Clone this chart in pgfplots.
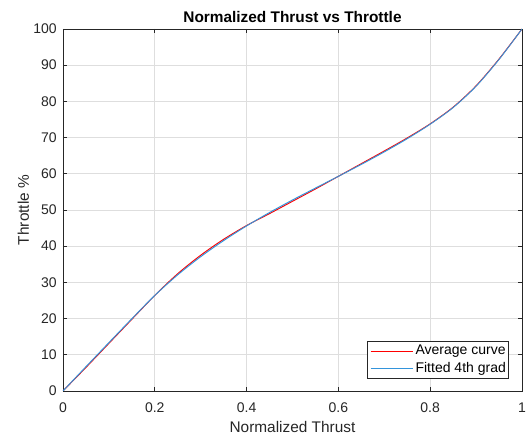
\documentclass[border=0pt]{standalone}
\usepackage{pgfplots}
\pgfplotsset{compat=1.18}
\usepackage{fontspec}
\setmainfont{Liberation Sans}
\definecolor{axc}{rgb}{0.15,0.15,0.15}
\definecolor{gridc}{rgb}{0.87,0.87,0.87}
\definecolor{mred}{rgb}{1,0,0}
\definecolor{mblue}{rgb}{0.2,0.58,0.86}
\begin{document}
\begin{tikzpicture}
\begin{axis}[
  name=ax,
  scale only axis,
  width=327.9pt, height=258.6pt,
  xmin=0, xmax=1, ymin=0, ymax=100,
  xtick={0,0.2,0.4,0.6,0.8,1},
  xticklabels={0,0.2,0.4,0.6,0.8,1},
  ytick={0,10,20,30,40,50,60,70,80,90,100},
  /pgf/number format/assume math mode=true,
  tick align=inside, tick pos=both,
  major tick length=3pt,
  axis line style={axc, line width=0.5pt},
  every tick/.style={axc, line width=0.5pt},
  grid=major,
  major grid style={gridc, line width=0.5pt},
  tick label style={font=\fontsize{10}{12}\selectfont, text=axc},
  xticklabel style={yshift=-4.8pt},
  yticklabel style={xshift=-1pt},
  title={Normalized Thrust vs Throttle},
  title style={at={(axis description cs:0.5,1.0166)}, anchor=base, yshift=-6pt, font=\bfseries\fontsize{11}{13}\selectfont, inner sep=0pt},
  xlabel={Normalized Thrust},
  xlabel style={at={(axis description cs:0.5,-0.1106)}, anchor=base, yshift=-1pt, font=\fontsize{11}{13}\selectfont, text=axc, inner sep=0pt},
  ylabel={Throttle \%},
  ylabel style={at={(axis description cs:-0.0741,0.5)}, anchor=base, font=\fontsize{11}{13}\selectfont, text=axc, inner sep=0pt},
  legend style={at={(axis description cs:0.9717,0.0331)}, anchor=south east,
    draw=axc, line width=0.5pt, font=\fontsize{10}{12}\selectfont,
    inner xsep=2pt, inner ysep=2.5pt, row sep=2.5pt,
    nodes={inner sep=0pt, text height=7.5pt, text depth=2.2pt}},
  legend cell align=left,
  legend image code/.code={\draw[#1, line width=0.8pt] (0pt,0pt) -- (30pt,0pt);},
]
\addplot[mred, line width=0.7pt, smooth, tension=0.5] coordinates {
(0,0) (0.05,6.5) (0.1,13.15) (0.15,19.8) (0.2,26.4) (0.25,32.4) (0.3,37.5)
(0.35,41.9) (0.4,45.7) (0.45,49.0) (0.5,52.4) (0.55,55.8) (0.6,59.3)
(0.65,62.8) (0.7,66.3) (0.75,69.9) (0.8,73.8) (0.85,78.4) (0.9,84.3)
(0.95,91.7) (1,100)};
\addlegendentry{\,Average curve}
\addplot[mblue, line width=0.7pt, smooth, tension=0.5] coordinates {
(0,0) (0.05,6.7) (0.1,13.35) (0.15,19.95) (0.2,26.4) (0.25,32.1) (0.3,37.1)
(0.35,41.55) (0.4,45.6) (0.45,49.3) (0.5,52.75) (0.55,56.05) (0.6,59.3)
(0.65,62.6) (0.7,66.05) (0.75,69.7) (0.8,73.7) (0.85,78.3) (0.9,84.2)
(0.95,91.6) (1,100)};
\addlegendentry{\,Fitted 4th grad}
\end{axis}
\pgfresetboundingbox
\path[use as bounding box] ([xshift=-45pt,yshift=-32.86pt]ax.south west) rectangle ([xshift=2.86pt,yshift=20.71pt]ax.north east);
\end{tikzpicture}
\end{document}
